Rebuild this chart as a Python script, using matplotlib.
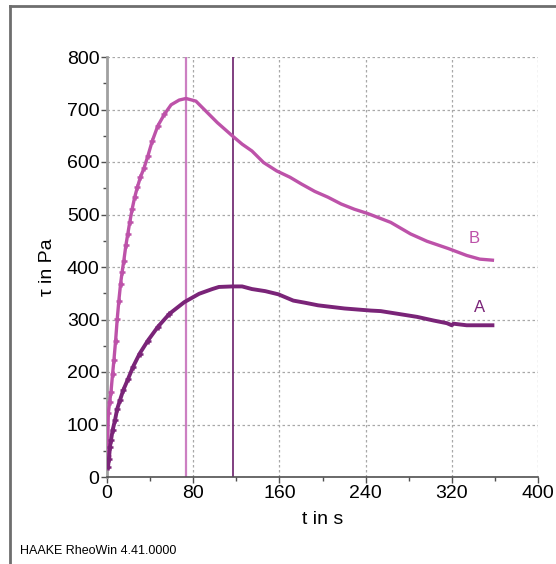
import matplotlib
matplotlib.use('Agg')
import matplotlib.pyplot as plt
from matplotlib.ticker import MultipleLocator
from matplotlib.lines import Line2D

plt.rcParams['font.family'] = ['Liberation Sans', 'DejaVu Sans']

# curve B (upper, pink)
t_b = [0.5, 1.2, 2.4, 3.7, 5.2, 6.4, 8.0, 9.5, 11.0, 12.6, 14.0, 15.6, 17.5, 19.3,
       21.1, 23.3, 25.7, 28.2, 31.0, 34.3, 38.0, 42.0, 47.2, 53.3, 59.5, 67.0,
       73.3, 82.5, 91.7, 102.4, 116.2, 125.4, 134.5, 145.3, 157.5, 169.8, 180.5,
       192.8, 205.0, 217.3, 229.6, 241.8, 263.3, 281.7, 297.0, 317.0, 333.8,
       346.0, 357.7]
tau_b = [40, 121, 142, 162, 197, 222, 260, 301, 336, 368, 390, 412, 441, 463,
         485, 510, 533, 552, 571, 588, 612, 640, 669, 691, 709, 718,
         721, 716, 697, 675, 650, 634, 621, 599, 583, 571, 558,
         544, 533, 520, 510, 502, 485, 463, 449, 435, 422,
         415, 413]

# curve A (lower, dark purple)
t_a = [1.0, 1.8, 2.8, 3.7, 5.2, 7.4, 9.5, 12.0, 15.0, 19.6, 24.2, 30.3, 38.0,
       47.2, 58.0, 71.7, 85.5, 97.7, 103.9, 116.2, 125.4, 134.5, 146.9, 159.0,
       172.9, 183.6, 195.9, 208.1, 220.4, 232.6, 244.9, 254.0, 269.4, 287.8,
       303.2, 315.4, 320.0, 321.6, 333.8, 357.7]
tau_a = [20, 35, 58, 70, 89, 108, 130, 146, 165, 187, 210, 235, 260,
         286, 311, 333, 349, 358, 362, 363, 363, 358, 354, 348,
         336, 332, 327, 324, 321, 319, 317, 316, 311, 305,
         298, 293, 289, 292, 289, 289]

# marked times (vertical lines)
t_mark_b = 73
t_mark_a = 117

col_b = '#BD52A9'
col_a = '#7A2478'

fig = plt.figure(figsize=(5.56, 5.64), dpi=100)
ax = fig.add_axes([107 / 556, 1 - 477 / 564, 431 / 556, 420 / 564])

# markers only visible where samples are spread out (rising part)
ax.plot(t_b, tau_b, color=col_b, lw=2.4, marker='+', ms=5, mew=1.8,
        markevery=slice(0, 24), zorder=3)
ax.plot(t_a, tau_a, color=col_a, lw=2.8, marker='+', ms=5, mew=1.8,
        markevery=slice(0, 15), zorder=3)
ax.axvline(t_mark_b, color='#CC7FC2', lw=1.6, zorder=2)
ax.axvline(t_mark_a, color='#6B1F6B', lw=1.2, zorder=2)

ax.text(341, 455, 'B', color=col_b, fontsize=12, ha='center', va='center')
ax.text(345.5, 323, 'A', color=col_a, fontsize=12, ha='center', va='center')

ax.set_xlim(0, 400)
ax.set_ylim(0, 800)
ax.xaxis.set_major_locator(MultipleLocator(80))
ax.xaxis.set_minor_locator(MultipleLocator(40))
ax.yaxis.set_major_locator(MultipleLocator(100))
ax.yaxis.set_minor_locator(MultipleLocator(50))
ax.grid(True, which='major', color='#A8A8A8', ls=(0, (2, 2)), lw=0.9)
ax.set_axisbelow(True)

for s in ['top', 'right']:
    ax.spines[s].set_visible(False)
ax.spines['left'].set_color('#A0A0A0')
ax.spines['left'].set_linewidth(2)
ax.spines['bottom'].set_color('#505050')
ax.spines['bottom'].set_linewidth(1.2)

ax.tick_params(which='major', length=4, width=1, color='#505050', labelsize=14,
               pad=1.5)
ax.tick_params(which='minor', length=3, width=1, color='#505050')

ax.set_xlabel('t in s', fontsize=14, labelpad=7)
ax.set_ylabel('τ in Pa', fontsize=14, labelpad=8)

# outer frame (top and left)
fig.add_artist(Line2D([10 / 556, 10 / 556], [0, 1 - 6 / 564],
                      transform=fig.transFigure, color='#6E6E6E', lw=2))
fig.add_artist(Line2D([10 / 556, 1], [1 - 6 / 564, 1 - 6 / 564],
                      transform=fig.transFigure, color='#6E6E6E', lw=2))

fig.text(20 / 556, 1 - 551 / 564, 'HAAKE RheoWin 4.41.0000', fontsize=9,
         va='center', ha='left')

fig.savefig('out.png', dpi=100)
